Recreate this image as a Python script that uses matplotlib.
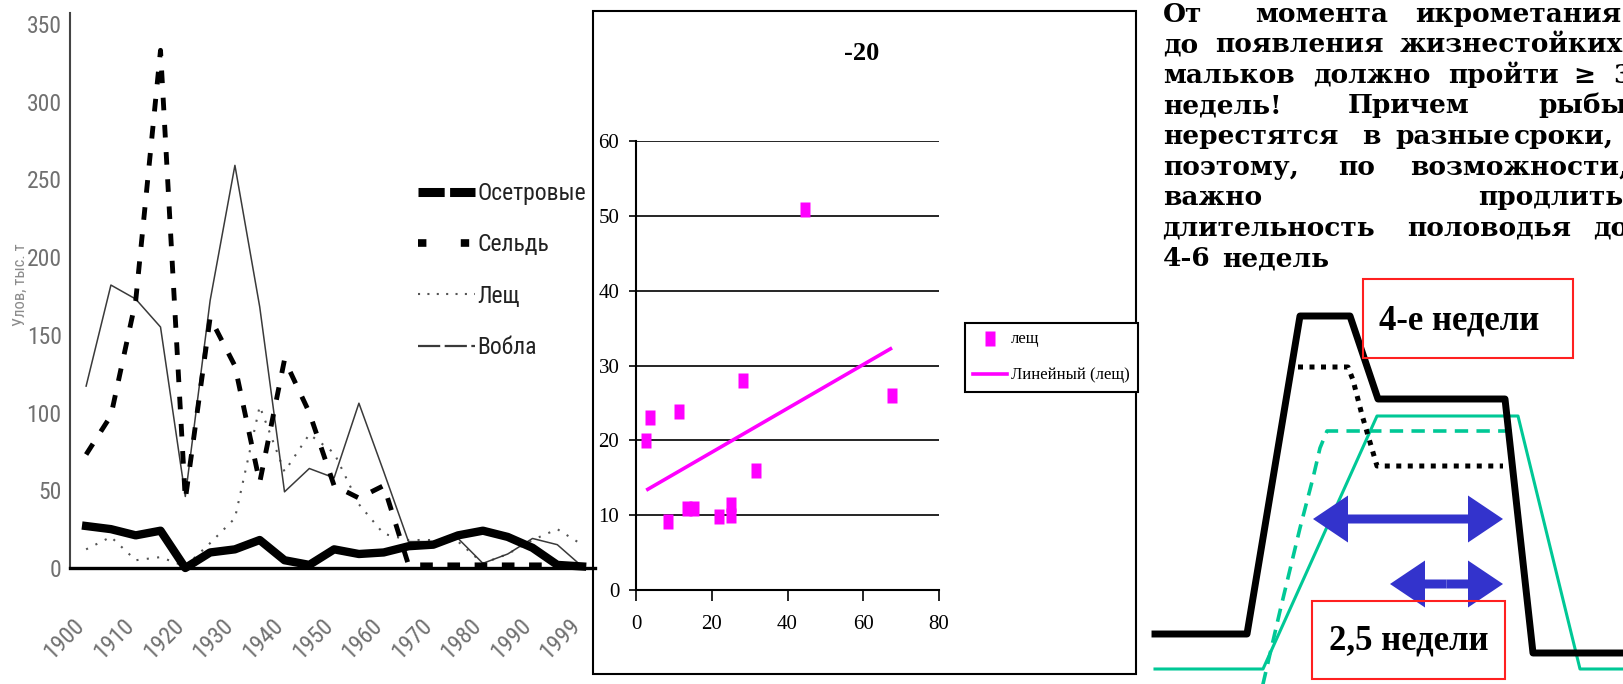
import numpy as np
import matplotlib
matplotlib.use('Agg')
import matplotlib.pyplot as plt
from matplotlib import font_manager
from matplotlib.lines import Line2D
from matplotlib.patches import Rectangle
from matplotlib.path import Path
from matplotlib.transforms import ScaledTranslation

W, H, DPI = 1623, 684, 100

# ---------------- data: panel 1 (catch by year) ----------------
years = ['1900', '1905', '1910', '1915', '1920', '1925', '1930', '1935', '1940', '1945',
         '1950', '1955', '1960', '1965', '1970', '1975', '1980', '1985', '1990', '1995', '1999']
osetrovye = [27, 25, 21, 24, 0, 10, 12, 18, 5, 2, 12, 9, 10, 14, 15, 21, 24, 20, 13, 2, 1]
seld = [73, 98, 172, 333, 44, 161, 130, 55, 134, 100, 53, 45, 53, 2, 2, 2, 2, 2, 2, 2, 1]
leshch = [12, 20, 5, 7, 1, 16, 32, 104, 62, 86, 74, 41, 22, 18, 18, 17, 3, 9, 18, 25, 15]
vobla = [117, 182, 173, 155, 46, 172, 259, 168, 49, 64, 58, 106, 62, 17, 17, 19, 3, 9, 19, 15, 1]
series_names = ['Осетровые', 'Сельдь', 'Лещ', 'Вобла']
y1_ticks = [0, 50, 100, 150, 200, 250, 300, 350]

# ---------------- data: panel 2 (scatter лещ) ----------------
lesh_x = [2.7, 3.6, 8.5, 11.4, 13.5, 15.3, 21.8, 25.0, 25.0, 28.3, 31.7, 44.6, 67.6]
lesh_y = [20.1, 23.2, 9.2, 23.9, 10.9, 10.9, 9.9, 10.0, 11.5, 28.1, 16.1, 51.0, 26.1]
x2_ticks = [0, 20, 40, 60, 80]
y2_ticks = [0, 10, 20, 30, 40, 50, 60]

# ---------------- data: panel 3 (schematic hydrograph) ----------------
flood_x = [5.5, 14.7, 20.0, 25.0, 27.8, 40.5, 43.3, 52.3]
flood_y = [5.0, 5.0, 36.8, 36.8, 28.5, 28.5, 3.1, 3.1]
flood2_x = [19.8, 24.8, 25.3, 26.2, 27.7, 40.3]
flood2_y = [31.7, 31.7, 30.4, 26.9, 21.8, 21.8]
spawn_x = [5.5, 16.3, 27.7, 41.8, 48.0, 52.3]
spawn_y = [1.5, 1.5, 26.8, 26.8, 1.5, 1.5]
spawn2_x = [15.8, 16.3, 18.0, 20.0, 21.3, 22.0, 22.7, 41.3]
spawn2_y = [-2.0, 0.0, 7.3, 15.6, 20.6, 23.6, 25.3, 25.3]
arrow_x0 = [21.3, 29.0]
arrow_x1 = [40.3, 40.3]
arrow_y = [16.5, 10.0]
box_labels = ['4-е недели', '2,5 недели']

text_lines = [
    ['От', 'момента', 'икрометания'],
    ['до', 'появления', 'жизнестойких'],
    ['мальков', 'должно', 'пройти', '≥', '3'],
    ['недель!', 'Причем', 'рыбы'],
    ['нерестятся', 'в', 'разные', 'сроки,'],
    ['поэтому,', 'по', 'возможности,'],
    ['важно', 'продлить'],
    ['длительность', 'половодья', 'до'],
    ['4-6', 'недель'],
]
# word left positions (px) – layout of the justified paragraph
word_x = [
    [1163, 1255, 1415],
    [1163, 1215, 1400],
    [1163, 1313, 1448, 1573, 1613],
    [1163, 1348, 1538],
    [1163, 1362, 1395, 1514],
    [1163, 1338, 1410],
    [1163, 1478],
    [1162, 1407, 1593],
    [1163, 1222],
]

# ---------------- fonts ----------------
avail = {f.name for f in font_manager.fontManager.ttflist}


def pick(*names):
    for n in names:
        if n in avail:
            return n
    return 'DejaVu Sans'


NARROW = pick('Liberation Sans Narrow', 'DejaVu Sans Condensed', 'Roboto Condensed', 'Liberation Sans')
SERIF = pick('Liberation Serif', 'DejaVu Serif')
BSERIF = pick('DejaVu Serif', 'Liberation Serif')

fig = plt.figure(figsize=(W / DPI, H / DPI), dpi=DPI)
fig.patch.set_facecolor('white')


def fax(l, t, r, b):
    return [l / W, 1 - b / H, (r - l) / W, (b - t) / H]


# overlay in pixel coordinates
ov = fig.add_axes([0, 0, 1, 1])
ov.set_xlim(0, W)
ov.set_ylim(H, 0)
ov.axis('off')
ov.patch.set_visible(False)

# ================= Panel 1 =================
ax1 = fig.add_axes(fax(70, 13, 594.5, 568))
ax1.patch.set_visible(False)
xi = np.arange(len(years))
l_os, = ax1.plot(xi, osetrovye, color='black', lw=6, solid_joinstyle='round', clip_on=False, zorder=4)
l_se, = ax1.plot(xi, seld, color='black', lw=3.5, linestyle=(0, (2.6, 3.0)), dash_capstyle='butt',
                 clip_on=False, zorder=3)
l_le, = ax1.plot(xi, leshch, color='#555555', lw=1.5, linestyle=(0, (1, 4)), clip_on=False, zorder=2)
l_vo, = ax1.plot(xi, vobla, color='#3a3a3a', lw=1.1, clip_on=False, zorder=2)
ax1.set_xlim(-0.65, 20.5)
ax1.set_ylim(0, 357)
for s in ['top', 'right']:
    ax1.spines[s].set_visible(False)
ax1.spines['left'].set_color('#444444')
ax1.spines['left'].set_linewidth(1.5)
ax1.spines['bottom'].set_color('black')
ax1.spines['bottom'].set_linewidth(2.4)
ax1.spines['bottom'].set_zorder(5)
ax1.set_yticks(y1_ticks)
ax1.set_yticklabels([str(v) for v in y1_ticks], family=NARROW, fontsize=17, color='#707070')
ax1.tick_params(axis='y', length=0, pad=6)
ax1.set_xticks(xi[::2])
ax1.set_xticklabels(years[::2], family=NARROW, fontsize=17, color='#707070',
                    rotation=45, ha='right', va='center', rotation_mode='anchor')
ax1.tick_params(axis='x', length=0, pad=39)
for lab in ax1.get_xticklabels():
    lab.set_transform(lab.get_transform() + ScaledTranslation(-5 / DPI, 0, fig.dpi_scale_trans))

h_os = Line2D([], [], color='black', lw=6.5, linestyle=(0, (2.9, 0.6)), dash_capstyle='butt')
h_se = Line2D([], [], color='black', lw=5.5, linestyle=(0, (1.1, 4.5)), dash_capstyle='butt')
h_le = Line2D([], [], color='#555555', lw=1.5, linestyle=(0, (1, 3.5)))
h_vo = Line2D([], [], color='#3a3a3a', lw=1.6, linestyle=(0, (10, 2)))
leg1 = ax1.legend([h_os, h_se, h_le, h_vo], series_names, loc='upper left',
                  bbox_to_anchor=(418 / W, 1 - 182 / H), bbox_transform=fig.transFigure,
                  frameon=False, prop={'family': NARROW, 'size': 17}, handlelength=2.4,
                  handletextpad=0.1, labelspacing=1.2, borderpad=0, borderaxespad=0)
for t in leg1.get_texts():
    t.set_color('#222222')

fig.text(20 / W, 1 - 285 / H, 'Улов, тыс. т', rotation=90, ha='center', va='center',
         family=NARROW, fontsize=12, color='#777777', alpha=0.85)

# ================= Panel 2 =================
ov.add_patch(Rectangle((593, 11), 543, 663, fill=False, edgecolor='black', lw=1.5))
ax2 = fig.add_axes(fax(636, 141, 939, 590))
ax2.patch.set_visible(False)
rect = Path([(-0.33, -0.5), (0.33, -0.5), (0.33, 0.5), (-0.33, 0.5), (-0.33, -0.5)],
            [Path.MOVETO, Path.LINETO, Path.LINETO, Path.LINETO, Path.CLOSEPOLY])
sc, = ax2.plot(lesh_x, lesh_y, ls='none', marker=rect, ms=10.8, color='#FF00FF', mec='none', zorder=4)
k, b = np.polyfit(lesh_x, lesh_y, 1)
tx = np.array([min(lesh_x), max(lesh_x)])
tr, = ax2.plot(tx, k * tx + b, color='#FF00FF', lw=2.6, solid_capstyle='butt', zorder=3)
ax2.set_xlim(0, 80)
ax2.set_ylim(0, 60.05)
ax2.set_xticks(x2_ticks)
ax2.set_yticks(y2_ticks)
ax2.set_xticklabels([str(v) for v in x2_ticks], family=SERIF, fontsize=15)
ax2.set_yticklabels([str(v) for v in y2_ticks], family=SERIF, fontsize=15)
ax2.tick_params(axis='x', direction='out', length=8, width=1.2, pad=10)
ax2.tick_params(axis='y', direction='out', length=5, width=1.2, pad=7)
ax2.yaxis.grid(True, color='black', lw=1.2)
ax2.set_axisbelow(True)
for s in ['top', 'right']:
    ax2.spines[s].set_visible(False)
for s in ['left', 'bottom']:
    ax2.spines[s].set_linewidth(1.5)
fig.text(862 / W, 1 - 54 / H, '-20', ha='center', va='center', family=SERIF,
         weight='bold', fontsize=19)
leg2 = ax2.legend([Line2D([], [], ls='none', marker=rect, ms=10.8, color='#FF00FF', mec='none'),
                   Line2D([], [], color='#FF00FF', lw=2.6)],
                  ['лещ', 'Линейный (лещ)'], loc='upper left',
                  bbox_to_anchor=(965 / W, 1 - 323 / H), bbox_transform=fig.transFigure,
                  fancybox=False, edgecolor='black', framealpha=1, borderpad=0.5,
                  handlelength=2.0, handletextpad=0.25, labelspacing=1.2,
                  prop={'family': SERIF, 'size': 12}, borderaxespad=0)
leg2.get_frame().set_linewidth(1.5)

# ================= Panel 3 =================
base0 = 21.7
step = 30.6
for k_line, (words, xs) in enumerate(zip(text_lines, word_x)):
    for w, x in zip(words, xs):
        ov.text(x, base0 + step * k_line, w, family=BSERIF, weight='bold', fontsize=19,
                va='baseline', ha='left', color='black')

ax3 = fig.add_axes(fax(1100, 260, 1623, 684))
ax3.patch.set_visible(False)
ax3.set_xlim(0, 52.3)
ax3.set_ylim(0, 42.4)
ax3.axis('off')
ax3.plot(spawn2_x, spawn2_y, color='#00C896', lw=2.6, linestyle=(0, (3.7, 2.3)), zorder=2)
ax3.plot(spawn_x, spawn_y, color='#00C896', lw=2.2, zorder=2)
ax3.plot(flood_x, flood_y, color='black', lw=5, solid_joinstyle='round', zorder=3)
ax3.plot(flood2_x, flood2_y, color='black', lw=3.6, linestyle=(0, (1, 1.3)), dash_capstyle='butt', zorder=3)
for x0, x1, y in zip(arrow_x0, arrow_x1, arrow_y):
    mid = (x0 + x1) / 2
    for tip in (x0, x1):
        ax3.arrow(mid, y, tip - mid, 0, width=0.9, head_width=4.7, head_length=3.5,
                  length_includes_head=True, color='#3333CC', lw=0, zorder=4)
ax3.add_patch(Rectangle((26.3, 32.6), 21.0, 7.9, fill=False, edgecolor='#FF2020', lw=1.5, zorder=5))
ax3.add_patch(Rectangle((21.2, 0.5), 19.3, 7.8, fill=False, edgecolor='#FF2020', lw=1.5, zorder=5))
ax3.text(35.9, 36.3, box_labels[0], ha='center', va='center', family=SERIF, weight='bold',
         fontsize=25, zorder=6)
ax3.text(30.9, 4.3, box_labels[1], ha='center', va='center', family=SERIF, weight='bold',
         fontsize=25, zorder=6)

fig.savefig('out.png', dpi=DPI)
